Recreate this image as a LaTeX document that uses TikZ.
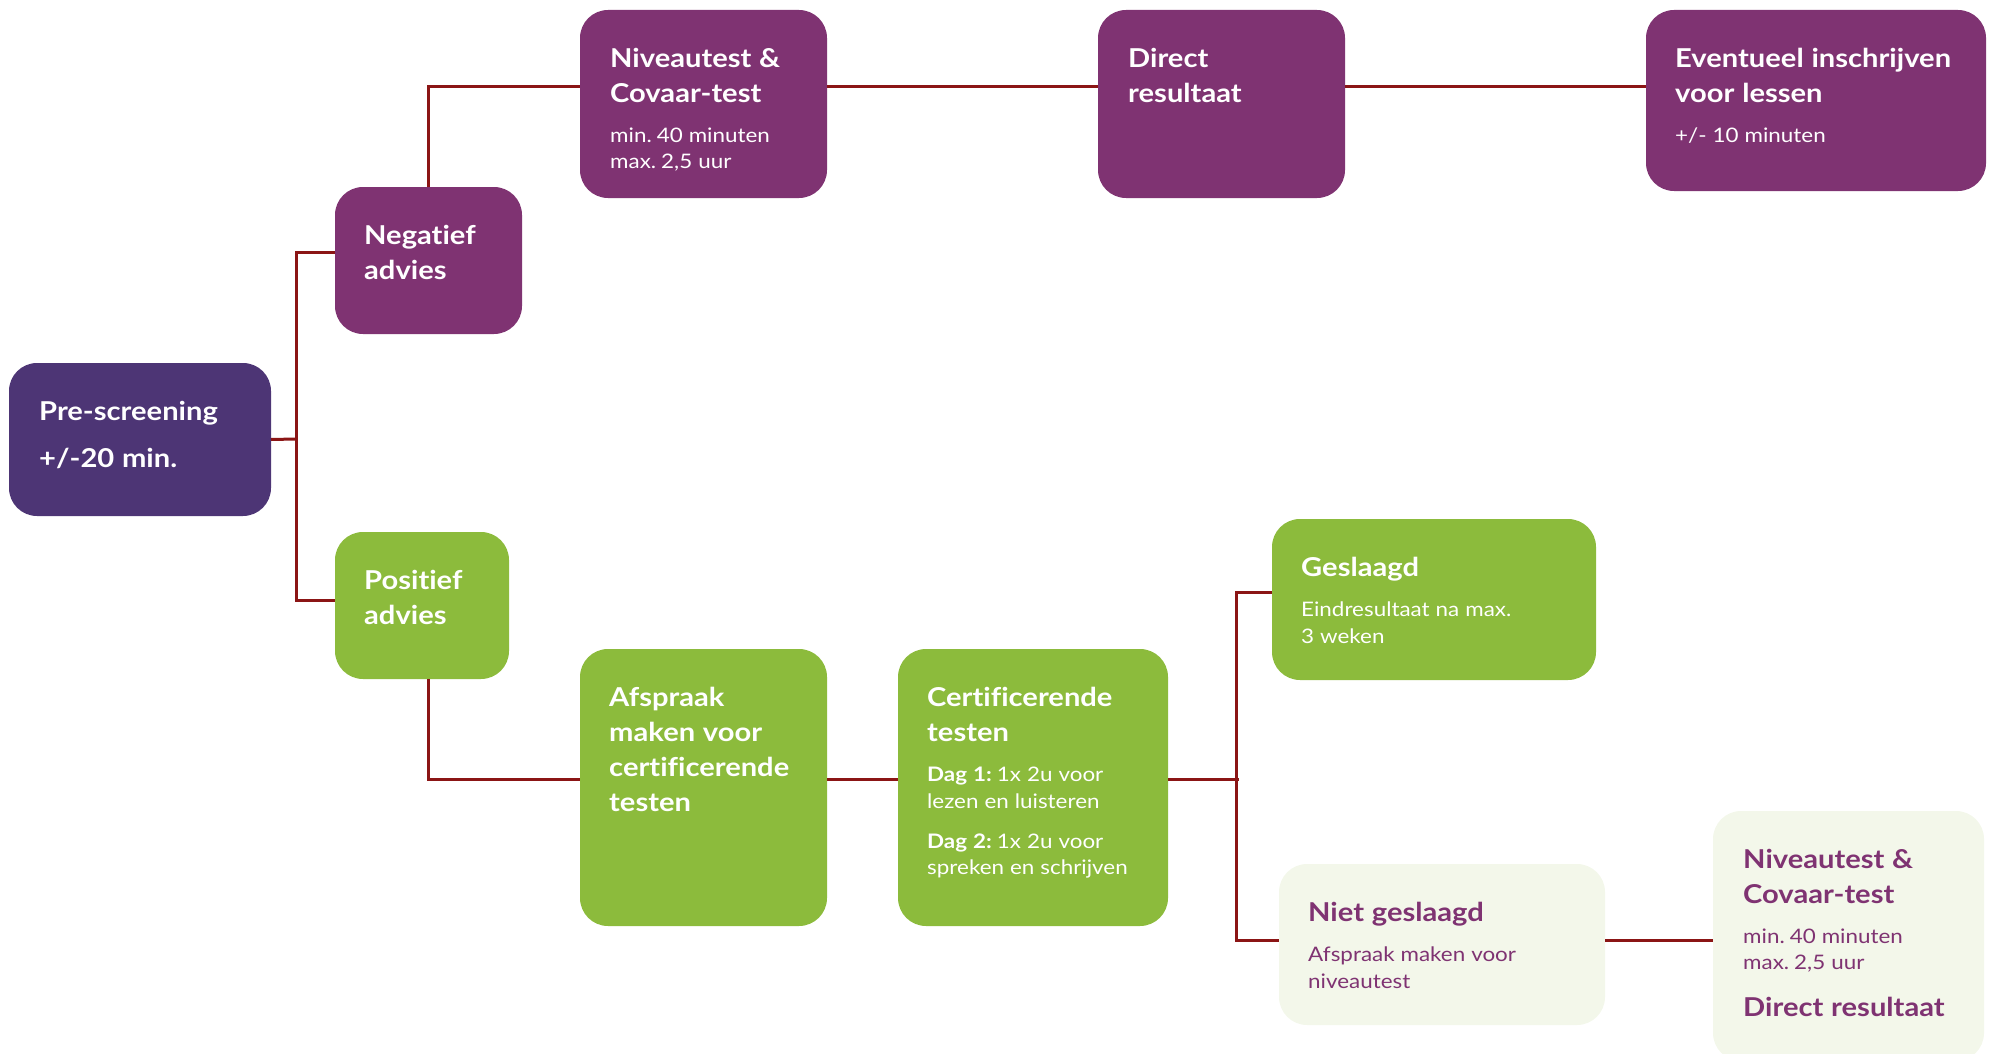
\documentclass[tikz,border=0pt]{standalone}
\usepackage{fontspec}
\setmainfont{Lato}[FakeStretch=1.12, Ligatures={NoCommon}]
\usetikzlibrary{positioning}

\definecolor{prepurple}{HTML}{4D3575}
\definecolor{flowpurple}{HTML}{7F3372}
\definecolor{flowgreen}{HTML}{8CBB3C}
\definecolor{flowlight}{HTML}{F3F7EA}
\definecolor{flowline}{HTML}{8B1515}

\newcommand{\widespaces}{\spaceskip=.3em plus .1em minus .05em\relax}
\newcommand{\boxtitle}[1]{{\fontsize{26}{35}\selectfont\bfseries\widespaces #1\par}}
\newcommand{\boxnote}[1]{\vspace{13.5pt}{\fontsize{20}{26.5}\selectfont\widespaces #1\par}}

\tikzset{
  card/.style  = {rectangle, rounded corners=28pt, draw=none, inner sep=0pt,
                  outer sep=0pt, anchor=north west},
  darkcard/.style  = {card, fill=prepurple},
  purplecard/.style = {card, fill=flowpurple},
  greencard/.style  = {card, fill=flowgreen},
  lightcard/.style  = {card, fill=flowlight},
  txt/.style   = {inner sep=0pt, align=left, text=white, text width=#1},
  lighttxt/.style = {txt=#1, text=flowpurple},
  link/.style  = {draw=flowline, line width=3pt}
}

\begin{document}
\begin{tikzpicture}[x=1pt,y=-1pt]
  \useasboundingbox (0,0) rectangle (1991,1054);
  % boxes
  \node[darkcard,   minimum width=262pt, minimum height=153pt] (pre)  at (9,363)    {};
  \node[purplecard, minimum width=187pt, minimum height=147pt] (neg)  at (335,187)  {};
  \node[greencard,  minimum width=174pt, minimum height=147pt] (pos)  at (335,532)  {};
  \node[purplecard, minimum width=247pt, minimum height=188pt] (niv)  at (580,10)   {};
  \node[purplecard, minimum width=247pt, minimum height=188pt] (dir)  at (1098,10)  {};
  \node[purplecard, minimum width=340pt, minimum height=181pt] (evt)  at (1646,10)  {};
  \node[greencard,  minimum width=247pt, minimum height=277pt] (afs)  at (580,649)  {};
  \node[greencard,  minimum width=270pt, minimum height=277pt] (cert) at (898,649)  {};
  \node[greencard,  minimum width=324pt, minimum height=161pt] (ges)  at (1272,519) {};
  \node[lightcard,  minimum width=326pt, minimum height=161pt] (niet) at (1279,864) {};
  \node[lightcard,  minimum width=271pt, minimum height=250pt] (niv2) at (1713,811) {};

  % texts
  \node[txt=220pt, below right=38pt and 30pt of pre.north west] (pre-t)
    {{\fontsize{26}{47}\selectfont\bfseries\widespaces Pre-screening\\ +/-20 min.\par}};
  \node[txt=155pt, below right=38pt and 29pt of neg.north west] (neg-t)
    {\boxtitle{Negatief\\ advies}};
  \node[txt=145pt, below right=38pt and 29pt of pos.north west] (pos-t)
    {\boxtitle{Positief\\ advies}};
  \node[txt=215pt, below right=38pt and 30pt of niv.north west] (niv-t)
    {\boxtitle{Niveautest \&\\ Covaar-test}\boxnote{min. 40 minuten\\ max. 2,5 uur}};
  \node[txt=215pt, below right=38pt and 30pt of dir.north west] (dir-t)
    {\boxtitle{Direct\\ resultaat}};
  \node[txt=305pt, below right=38pt and 29pt of evt.north west] (evt-t)
    {\boxtitle{Eventueel inschrijven\\ voor lessen}\boxnote{+/- 10 minuten}};
  \node[txt=215pt, below right=38pt and 29pt of afs.north west] (afs-t)
    {\boxtitle{Afspraak\\ maken voor\\ certificerende\\ testen}};
  \node[txt=240pt, below right=38pt and 29pt of cert.north west] (cert-t)
    {\boxtitle{Certificerende\\ testen}%
     \boxnote{\textbf{Dag 1:} 1x 2u voor\\ lezen en luisteren}%
     \boxnote{\textbf{Dag 2:} 1x 2u voor\\ spreken en schrijven}};
  \node[txt=290pt, below right=38pt and 29pt of ges.north west] (ges-t)
    {\boxtitle{Geslaagd}\boxnote{Eindresultaat na max.\\ 3 weken}};
  \node[lighttxt=290pt, below right=38pt and 29pt of niet.north west] (niet-t)
    {\boxtitle{Niet geslaagd}\boxnote{Afspraak maken voor\\ niveautest}};
  \node[lighttxt=240pt, below right=38pt and 30pt of niv2.north west] (niv2-t)
    {\boxtitle{Niveautest \&\\ Covaar-test}\boxnote{min. 40 minuten\\ max. 2,5 uur}%
     \vspace{12pt}\boxtitle{Direct resultaat}};

  % connectors
  \coordinate (fork1) at (296,439);
  \coordinate (fork2) at (1236,779);
  \draw[link] (pre.east) -- (fork1);
  \draw[link] ([yshift=8.5pt]neg.west) -| (fork1) |- ([yshift=5.5pt]pos.west);
  \draw[link] (neg.north) |- ([yshift=17pt]niv.west);
  \draw[link] ([yshift=17pt]niv.east) -- ([yshift=17pt]dir.west);
  \draw[link] ([yshift=17pt]dir.east) -- ([yshift=13.5pt]evt.west);
  \draw[link] ([xshift=6pt]pos.south) |- ([yshift=8.5pt]afs.west);
  \draw[link] ([yshift=8.5pt]afs.east) -- ([yshift=8.5pt]cert.west);
  \draw[link] ([yshift=8.5pt]cert.east) -- ([xshift=3pt]fork2);
  \draw[link] ([yshift=7.5pt]ges.west) -| (fork2) |- ([yshift=4.5pt]niet.west);
  \draw[link] ([yshift=4.5pt]niet.east) -- ([yshift=4.5pt]niet.east -| niv2.west);
\end{tikzpicture}
\end{document}
